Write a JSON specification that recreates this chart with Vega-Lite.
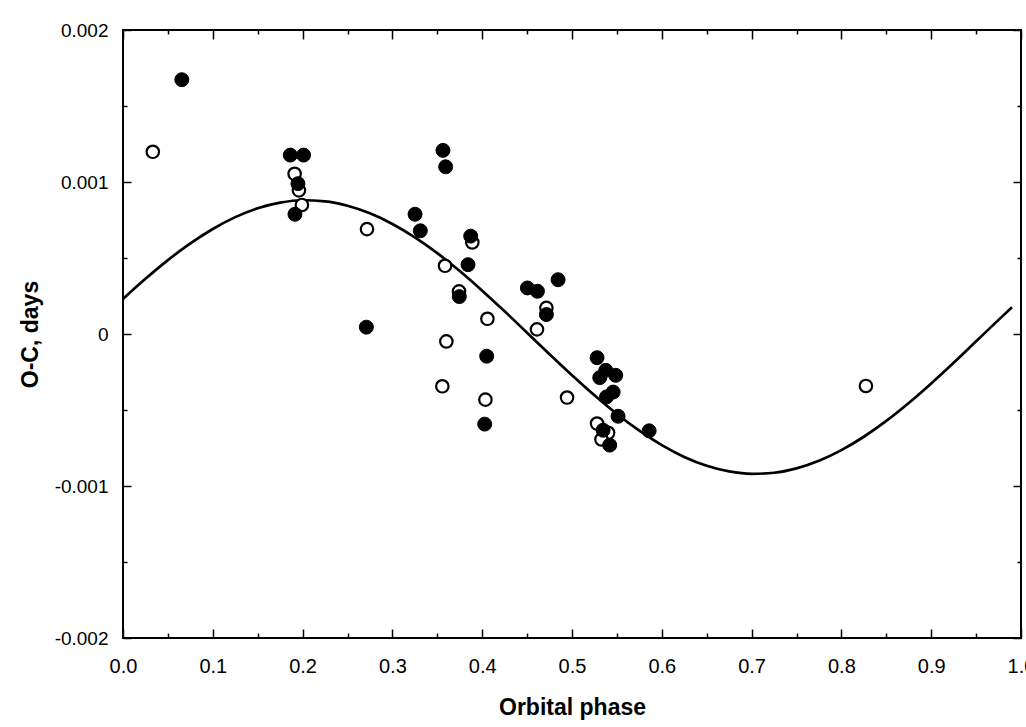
{
  "$schema": "https://vega.github.io/schema/vega-lite/v6.json",
  "width": 898,
  "height": 608,
  "autosize": "none",
  "padding": {"left": 123, "top": 30, "right": 5, "bottom": 89},
  "background": "white",
  "config": {
    "view": {"stroke": "black", "strokeWidth": 2},
    "axis": {"domain": false, "grid": false, "tickColor": "black", "tickWidth": 1.5, "labelColor": "black", "labelFont": "Liberation Sans", "labelFontSize": 19, "titleFont": "Liberation Sans", "titleFontSize": 23, "titleFontWeight": "bold", "titleColor": "black", "labelFlush": false, "labelOverlap": false}
  },
  "datasets": {
    "curve": [
      {"phase": 0.0, "oc": 0.000231}, {"phase": 0.025, "oc": 0.000363}, {"phase": 0.05, "oc": 0.000486}, {"phase": 0.075, "oc": 0.000596},
      {"phase": 0.1, "oc": 0.000691}, {"phase": 0.125, "oc": 0.000769}, {"phase": 0.15, "oc": 0.000827}, {"phase": 0.175, "oc": 0.000864},
      {"phase": 0.2, "oc": 0.00088}, {"phase": 0.225, "oc": 0.000873}, {"phase": 0.25, "oc": 0.000844}, {"phase": 0.275, "oc": 0.000794},
      {"phase": 0.3, "oc": 0.000724}, {"phase": 0.325, "oc": 0.000636}, {"phase": 0.35, "oc": 0.000532}, {"phase": 0.375, "oc": 0.000414},
      {"phase": 0.4, "oc": 0.000285}, {"phase": 0.425, "oc": 0.000149}, {"phase": 0.45, "oc": 0.000008}, {"phase": 0.475, "oc": -0.000133},
      {"phase": 0.5, "oc": -0.000271}, {"phase": 0.525, "oc": -0.000403}, {"phase": 0.55, "oc": -0.000526}, {"phase": 0.575, "oc": -0.000636},
      {"phase": 0.6, "oc": -0.000731}, {"phase": 0.625, "oc": -0.000809}, {"phase": 0.65, "oc": -0.000867}, {"phase": 0.675, "oc": -0.000904},
      {"phase": 0.7, "oc": -0.00092}, {"phase": 0.725, "oc": -0.000913}, {"phase": 0.75, "oc": -0.000884}, {"phase": 0.775, "oc": -0.000834},
      {"phase": 0.8, "oc": -0.000764}, {"phase": 0.825, "oc": -0.000676}, {"phase": 0.85, "oc": -0.000572}, {"phase": 0.875, "oc": -0.000454},
      {"phase": 0.9, "oc": -0.000325}, {"phase": 0.925, "oc": -0.000189}, {"phase": 0.95, "oc": -0.000048}, {"phase": 0.975, "oc": 0.000093},
      {"phase": 0.99, "oc": 0.000176}
    ],
    "points": [
      {"kind": "open", "phase": 0.0332, "oc": 0.001199},
      {"kind": "open", "phase": 0.1911, "oc": 0.001054},
      {"kind": "open", "phase": 0.1959, "oc": 0.000945},
      {"kind": "open", "phase": 0.1992, "oc": 0.000849},
      {"kind": "open", "phase": 0.2717, "oc": 0.00069},
      {"kind": "open", "phase": 0.389, "oc": 0.000602},
      {"kind": "open", "phase": 0.3586, "oc": 0.000449},
      {"kind": "open", "phase": 0.3742, "oc": 0.00028},
      {"kind": "open", "phase": 0.4058, "oc": 0.0001},
      {"kind": "open", "phase": 0.3601, "oc": -0.000049},
      {"kind": "open", "phase": 0.3556, "oc": -0.000344},
      {"kind": "open", "phase": 0.4036, "oc": -0.000432},
      {"kind": "open", "phase": 0.4715, "oc": 0.000172},
      {"kind": "open", "phase": 0.461, "oc": 0.00003},
      {"kind": "open", "phase": 0.4945, "oc": -0.000418},
      {"kind": "open", "phase": 0.5279, "oc": -0.000589},
      {"kind": "open", "phase": 0.5402, "oc": -0.00065},
      {"kind": "open", "phase": 0.5328, "oc": -0.000694},
      {"kind": "open", "phase": 0.8273, "oc": -0.000342},
      {"kind": "filled", "phase": 0.0655, "oc": 0.001673},
      {"kind": "filled", "phase": 0.1863, "oc": 0.001177},
      {"kind": "filled", "phase": 0.2011, "oc": 0.001177},
      {"kind": "filled", "phase": 0.1948, "oc": 0.000989},
      {"kind": "filled", "phase": 0.1915, "oc": 0.000788},
      {"kind": "filled", "phase": 0.3563, "oc": 0.001208},
      {"kind": "filled", "phase": 0.3593, "oc": 0.0011},
      {"kind": "filled", "phase": 0.3252, "oc": 0.000788},
      {"kind": "filled", "phase": 0.3311, "oc": 0.000679},
      {"kind": "filled", "phase": 0.3872, "oc": 0.000644},
      {"kind": "filled", "phase": 0.3842, "oc": 0.000456},
      {"kind": "filled", "phase": 0.3745, "oc": 0.000246},
      {"kind": "filled", "phase": 0.271, "oc": 0.000045},
      {"kind": "filled", "phase": 0.405, "oc": -0.000146},
      {"kind": "filled", "phase": 0.4028, "oc": -0.000593},
      {"kind": "filled", "phase": 0.4503, "oc": 0.000303},
      {"kind": "filled", "phase": 0.4615, "oc": 0.000281},
      {"kind": "filled", "phase": 0.4845, "oc": 0.000357},
      {"kind": "filled", "phase": 0.4715, "oc": 0.000128},
      {"kind": "filled", "phase": 0.5279, "oc": -0.000156},
      {"kind": "filled", "phase": 0.5376, "oc": -0.000239},
      {"kind": "filled", "phase": 0.5487, "oc": -0.000272},
      {"kind": "filled", "phase": 0.5309, "oc": -0.000287},
      {"kind": "filled", "phase": 0.5458, "oc": -0.000382},
      {"kind": "filled", "phase": 0.5384, "oc": -0.000414},
      {"kind": "filled", "phase": 0.5513, "oc": -0.000541},
      {"kind": "filled", "phase": 0.5346, "oc": -0.000633},
      {"kind": "filled", "phase": 0.542, "oc": -0.000731},
      {"kind": "filled", "phase": 0.5859, "oc": -0.000637}
    ]
  },
  "resolve": {"axis": {"x": "independent", "y": "independent"}},
  "layer": [
    {
      "data": {"name": "curve"},
      "mark": {"type": "line", "color": "black", "strokeWidth": 2.7, "interpolate": "monotone"},
      "encoding": {
        "x": {"field": "phase", "type": "quantitative", "scale": {"domain": [0, 1], "nice": false},
          "axis": {"orient": "bottom", "title": "Orbital phase", "titlePadding": 16, "labelFontSize": 20,
            "values": [0, 0.05, 0.1, 0.15, 0.2, 0.25, 0.3, 0.35, 0.4, 0.45, 0.5, 0.55, 0.6, 0.65, 0.7, 0.75, 0.8, 0.85, 0.9, 0.95, 1.0],
            "labelExpr": "round(datum.value*100) % 10 == 0 ? format(datum.value, '.1f') : ''",
            "tickSize": {"condition": {"test": "round(datum.value*100) % 10 == 0", "value": -9}, "value": -5},
            "labelPadding": 27}},
        "y": {"field": "oc", "type": "quantitative", "scale": {"domain": [-0.002, 0.002], "nice": false, "zero": false},
          "axis": {"orient": "left", "title": "O-C, days", "titlePadding": 12, "labelFontSize": 19,
            "values": [-0.002, -0.0015, -0.001, -0.0005, 0, 0.0005, 0.001, 0.0015, 0.002],
            "labelExpr": "round(datum.value*10000) % 10 == 0 ? (datum.value == 0 ? '0' : (datum.value < 0 ? '-' : '') + format(abs(datum.value), '.3f')) : ''",
            "tickSize": {"condition": {"test": "round(datum.value*10000) % 10 == 0", "value": -8}, "value": -4},
            "labelPadding": 23}}
      }
    },
    {
      "data": {"name": "points"},
      "transform": [{"filter": "datum.kind == 'open'"}],
      "mark": {"type": "circle", "fill": "white", "stroke": "black", "strokeWidth": 2.2, "opacity": 1, "size": 155},
      "encoding": {
        "x": {"field": "phase", "type": "quantitative",
          "axis": {"orient": "top", "title": null, "labels": false,
            "values": [0, 0.05, 0.1, 0.15, 0.2, 0.25, 0.3, 0.35, 0.4, 0.45, 0.5, 0.55, 0.6, 0.65, 0.7, 0.75, 0.8, 0.85, 0.9, 0.95, 1.0],
            "tickSize": {"condition": {"test": "round(datum.value*100) % 10 == 0", "value": -9}, "value": -4}}},
        "y": {"field": "oc", "type": "quantitative",
          "axis": {"orient": "right", "title": null, "labels": false,
            "values": [-0.002, -0.0015, -0.001, -0.0005, 0, 0.0005, 0.001, 0.0015, 0.002],
            "tickSize": {"condition": {"test": "round(datum.value*10000) % 10 == 0", "value": -8}, "value": -4}}}
      }
    },
    {
      "data": {"name": "points"},
      "transform": [{"filter": "datum.kind == 'filled'"}],
      "mark": {"type": "circle", "fill": "black", "stroke": "black", "strokeWidth": 1, "opacity": 1, "size": 195},
      "encoding": {
        "x": {"field": "phase", "type": "quantitative", "axis": null},
        "y": {"field": "oc", "type": "quantitative", "axis": null}
      }
    }
  ]
}
